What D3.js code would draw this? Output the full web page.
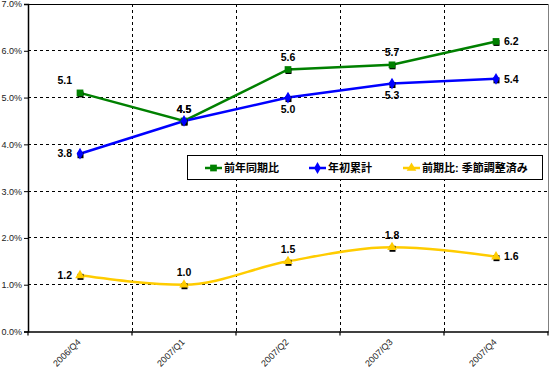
<!DOCTYPE html>
<html><head><meta charset="utf-8">
<script src="https://cdn.jsdelivr.net/npm/d3@7"></script>
<style>
html,body{margin:0;padding:0;background:#fff;}
svg{display:block;}
text{font-family:Arial,"Liberation Sans","Noto Sans CJK JP",sans-serif;}
</style></head>
<body>
<svg id="c" width="550" height="370"></svg>
<script>
const categories = ["2006/Q4","2007/Q1","2007/Q2","2007/Q3","2007/Q4"];
const seriesNames = ["前年同期比","年初累計","前期比: 季節調整済み"];
const yoy = [5.1, 4.5, 5.6, 5.7, 6.2];
const ytd = [3.8, 4.5, 5.0, 5.3, 5.4];
const qoq = [1.2, 1.0, 1.5, 1.8, 1.6];
const yTicks = [0,1,2,3,4,5,6,7];
const colors = ["#008000","#0000FF","#FFCC00"];
// label placement per point: l=left, t=top, b=bottom, r=right
const labelPos = [
  ["l","t","t","t","r"],
  ["l","t","b","b","r"],
  ["l","t","t","t","r"]
];

const svg = d3.select("#c");
const L=28, R=548, T=4, B=331.5;
const x = d3.scaleBand().domain(categories).range([L,R]);
const y = d3.scaleLinear().domain([0,7]).range([B,T]);
const cx = c => x(c)+x.bandwidth()/2;

// horizontal gridlines
svg.append("g").selectAll("line").data(yTicks.filter(v=>v>0&&v<7)).join("line")
  .attr("x1",L).attr("x2",R).attr("y1",d=>y(d)).attr("y2",d=>y(d))
  .attr("stroke","#000").attr("stroke-width",1).attr("stroke-dasharray","3,3")
  .attr("shape-rendering","crispEdges");
// vertical gridlines at category boundaries
svg.append("g").selectAll("line").data(categories.slice(1)).join("line")
  .attr("x1",d=>x(d)).attr("x2",d=>x(d)).attr("y1",T).attr("y2",B)
  .attr("stroke","#000").attr("stroke-width",1).attr("stroke-dasharray","3,3")
  .attr("shape-rendering","crispEdges");
// top and right border
svg.append("line").attr("x1",L).attr("x2",R).attr("y1",T).attr("y2",T)
  .attr("stroke","#000").attr("shape-rendering","crispEdges");
svg.append("line").attr("x1",R).attr("x2",R).attr("y1",T).attr("y2",B)
  .attr("stroke","#808080").attr("shape-rendering","crispEdges");

// y axis
const yAxis = svg.append("g").attr("transform",`translate(${L},0)`)
  .call(d3.axisLeft(y).tickValues(yTicks).tickSize(4).tickFormat(d=>d.toFixed(1)+"%"));
yAxis.select(".domain").attr("stroke","#000").attr("stroke-width",1.5);
yAxis.selectAll("text").attr("font-size",9).attr("fill","#222").attr("dx","1");
// x axis
const xAxis = svg.append("g").attr("transform",`translate(0,${B})`)
  .call(d3.axisBottom(x).tickSize(0).tickFormat(""));
xAxis.select(".domain").attr("stroke","#000").attr("stroke-width",1.5);
svg.append("g").selectAll("line").data(categories.concat(["end"])).join("line")
  .attr("x1",(d,i)=>L+i*x.bandwidth()).attr("x2",(d,i)=>L+i*x.bandwidth())
  .attr("y1",B).attr("y2",B+4).attr("stroke","#000").attr("stroke-width",1.2);
svg.append("g").selectAll("text").data(categories).join("text")
  .attr("transform",d=>`translate(${cx(d)-1},${B+9}) rotate(-45)`)
  .attr("text-anchor","end").attr("font-size",9).attr("fill","#222")
  .attr("dy","0.35em").text(d=>d);

const allSeries=[yoy,ytd,qoq];
const shapes=[d3.symbolSquare,d3.symbolDiamond,d3.symbolTriangle];
const sizes=[45,40,40];
allSeries.forEach((vals,si)=>{
  const pts = vals.map((v,i)=>[cx(categories[i]),y(v)]);
  const line = d3.line().curve(si===2?d3.curveMonotoneX:d3.curveLinear);
  svg.append("path").attr("d",line(pts)).attr("fill","none")
    .attr("stroke",colors[si]).attr("stroke-width",2.5);
});
allSeries.forEach((vals,si)=>{
  const g=svg.append("g");
  vals.forEach((v,i)=>{
    const px=cx(categories[i]), py=y(v);
    g.append("rect").attr("x",px-2.5).attr("y",py-1.5).attr("width",6).attr("height",6).attr("fill","#000");
    g.append("path").attr("transform",`translate(${px},${py})`)
      .attr("d",d3.symbol().type(shapes[si]).size(sizes[si])()).attr("fill",colors[si]);
  });
});
// data labels
allSeries.forEach((vals,si)=>{
  vals.forEach((v,i)=>{
    const px=cx(categories[i]), py=y(v), p=labelPos[si][i];
    let tx=px, ty=py, anchor="middle";
    if(p==="l"){tx=px-8;ty=py-(si===0?13:0);anchor="end";}
    if(p==="r"){tx=px+8;anchor="start";}
    if(p==="t"){ty=py-12;}
    if(p==="b"){ty=py+12;}
    if(si===0&&p==="r") ty=py;
    svg.append("text").attr("x",tx).attr("y",ty).attr("dy","0.35em")
      .attr("text-anchor",anchor).attr("font-size",10.5).attr("font-weight","bold")
      .attr("fill","#000").text(v.toFixed(1));
  });
});

// legend
const lg=svg.append("g");
lg.append("rect").attr("x",187.5).attr("y",155.5).attr("width",355).attr("height",24)
  .attr("fill","#fff").attr("stroke","#000").attr("stroke-width",1);
const lx=[205,309,403];
seriesNames.forEach((n,i)=>{
  const ly=168;
  lg.append("line").attr("x1",lx[i]).attr("x2",lx[i]+17).attr("y1",ly).attr("y2",ly)
    .attr("stroke",colors[i]).attr("stroke-width",2.5);
  lg.append("path").attr("transform",`translate(${lx[i]+8.5},${ly})`)
    .attr("d",d3.symbol().type(shapes[i]).size(sizes[i])()).attr("fill",colors[i]);
  lg.append("text").attr("x",lx[i]+19).attr("y",ly).attr("dy","0.38em")
    .attr("font-size",11).attr("font-weight","bold").attr("fill","#000").text(n);
});
</script>
</body></html>
